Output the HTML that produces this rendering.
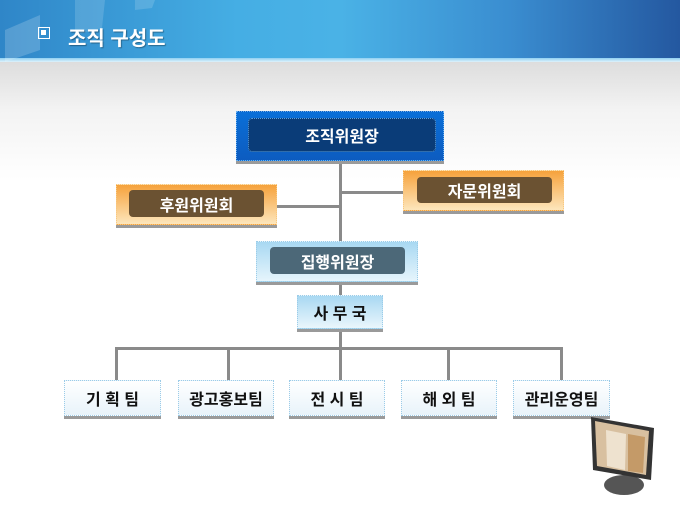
<!DOCTYPE html>
<html><head><meta charset="utf-8"><style>
*{margin:0;padding:0;box-sizing:border-box}
body{width:680px;height:510px;overflow:hidden;position:relative;font-family:"Liberation Sans","Noto Sans CJK KR","NanumGothic",sans-serif;background:linear-gradient(#dcdcdc 60px,#f3f3f3 110px,#fff 180px,#fff)}
.hdr{position:absolute;left:0;top:0;width:680px;height:58px;background:linear-gradient(90deg,#2f86c8 0%,#45aee4 35%,#4ab2e6 50%,#3a8dd0 75%,#2458a0 100%)}
.hl{position:absolute;left:0;top:58px;width:680px;height:4px;background:linear-gradient(#8fd0f2,#dff2fb)}
.title{position:absolute;left:68px;top:22px;color:#fff;font-size:20px;font-weight:bold;text-shadow:1px 1px 1px rgba(0,0,0,.35)}
.chk{position:absolute;left:38px;top:27px;width:12px;height:12px;border:1.5px solid #fff}
.chk:after{content:"";position:absolute;left:2px;top:2px;width:5px;height:5px;background:#fff}
.b{position:absolute;border:1px dotted #9ccce8;box-shadow:0 3px 0 #9a9a9a;display:flex;align-items:center;justify-content:center;font-weight:bold}
.in{position:absolute;border-radius:4px;display:flex;align-items:center;justify-content:center;color:#fff;font-weight:bold;font-size:16px}
.ln{position:absolute;background:#8a8a8a}
.t{background:linear-gradient(#fff,#e8f3fa);color:#111;font-size:16px}
</style></head><body>
<div class="hdr"></div><div class="hl"></div>
<svg style="position:absolute;left:0;top:0" width="160" height="80">
<polygon points="5,30 40,15 40,50 5,62" fill="#fff" opacity=".18"/>
<polygon points="75,0 105,0 102,28 75,35" fill="#fff" opacity=".15"/>
<polygon points="135,0 155,0 152,8 135,10" fill="#fff" opacity=".15"/>
</svg>
<div class="chk"></div><div class="title">조직 구성도</div>

<div class="ln" style="left:339px;top:160px;width:3px;height:190px"></div>
<div class="ln" style="left:340px;top:191px;width:64px;height:3px"></div>
<div class="ln" style="left:276px;top:205px;width:64px;height:3px"></div>
<div class="ln" style="left:115px;top:347px;width:448px;height:3px"></div>
<div class="ln" style="left:115px;top:347px;width:3px;height:34px"></div>
<div class="ln" style="left:227px;top:347px;width:3px;height:34px"></div>
<div class="ln" style="left:339px;top:347px;width:3px;height:34px"></div>
<div class="ln" style="left:447px;top:347px;width:3px;height:34px"></div>
<div class="ln" style="left:560px;top:347px;width:3px;height:34px"></div>

<div class="b" style="left:236px;top:111px;width:208px;height:50px;background:linear-gradient(#0a6fd8,#0d5cc0);border-color:#6ab0f0"></div>
<div class="in" style="left:248px;top:118px;width:188px;height:34px;background:#0a3c78;border:1px dotted #5aa0e0">조직위원장</div>

<div class="b" style="left:116px;top:184px;width:161px;height:41px;background:linear-gradient(#f6a23c,#fde6bc);border-color:#f8c880"></div>
<div class="in" style="left:129px;top:190px;width:135px;height:27px;background:#6b5232">후원위원회</div>

<div class="b" style="left:403px;top:170px;width:161px;height:41px;background:linear-gradient(#f6a23c,#fde6bc);border-color:#f8c880"></div>
<div class="in" style="left:417px;top:177px;width:135px;height:26px;background:#6b5232">자문위원회</div>

<div class="b" style="left:256px;top:241px;width:162px;height:41px;background:linear-gradient(#a8d8f2,#e6f5fc)"></div>
<div class="in" style="left:270px;top:247px;width:135px;height:27px;background:#4c6878">집행위원장</div>

<div class="b" style="left:297px;top:295px;width:86px;height:34px;background:linear-gradient(#a8d8f2,#eaf6fc);font-size:16px;color:#111">사 무 국</div>

<div class="b t" style="left:64px;top:380px;width:97px;height:36px">기 획 팀</div>
<div class="b t" style="left:178px;top:380px;width:96px;height:36px">광고홍보팀</div>
<div class="b t" style="left:289px;top:380px;width:96px;height:36px">전 시 팀</div>
<div class="b t" style="left:401px;top:380px;width:96px;height:36px">해 외 팀</div>
<div class="b t" style="left:513px;top:380px;width:97px;height:36px">관리운영팀</div>

<svg style="position:absolute;left:0;top:0" width="680" height="510">
<ellipse cx="624" cy="485" rx="20" ry="10" fill="#555"/>
<polygon points="591,417 654,428 651,480 593,470" fill="#333"/>
<polygon points="595,421 649,431 646,475 597,466" fill="#d8c0a0"/>
<polygon points="606,430 626,434 625,470 607,466" fill="#eee2cf"/>
<polygon points="628,434 645,437 643,473 628,471" fill="#c49a68"/>
</svg>
</body></html>
